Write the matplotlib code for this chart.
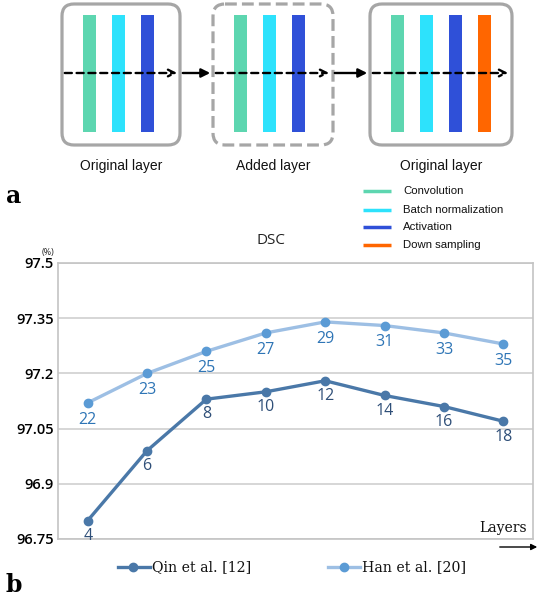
import matplotlib
matplotlib.use("Agg")
import matplotlib.pyplot as plt
from matplotlib.patches import FancyBboxPatch, Rectangle
import numpy as np

# ---------------- data ----------------
qin_layers = ["4", "6", "8", "10", "12", "14", "16", "18"]
qin_dsc = [96.80, 96.99, 97.13, 97.15, 97.18, 97.14, 97.11, 97.07]
han_layers = ["22", "23", "25", "27", "29", "31", "33", "35"]
han_dsc = [97.12, 97.20, 97.26, 97.31, 97.34, 97.33, 97.31, 97.28]
y_ticks = [96.75, 96.9, 97.05, 97.2, 97.35, 97.5]
y_tick_labels = ["96.75", "96.9", "97.05", "97.2", "97.35", "97.5"]
series_names = ["Qin et al. [12]", "Han et al. [20]"]

component_names = ["Convolution", "Batch normalization", "Activation", "Down sampling"]
component_colors = ["#5dd6b0", "#2de2fc", "#2f50d8", "#ff6600"]
block_labels = ["Original layer", "Added layer", "Original layer"]
block_components = [[0, 1, 2], [0, 1, 2], [0, 1, 2, 3]]

W, H = 542, 600
fig = plt.figure(figsize=(W / 100, H / 100), dpi=100)

# ---------------- chart ----------------
left, right, top, bot = 58, 533, 263, 539
ax = fig.add_axes([left / W, (H - bot) / H, (right - left) / W, (bot - top) / H])
x = np.arange(len(qin_dsc))
ax.set_xlim(-0.5, len(qin_dsc) - 0.5)
ax.set_ylim(96.75, 97.5)
ax.set_yticks(y_ticks)
ax.set_yticklabels(y_tick_labels, family="Open Sans", fontsize=10.5, fontweight="semibold")
ax.set_xticks([])
ax.tick_params(axis="y", length=0, pad=3)
for s in ax.spines.values():
    s.set_color("#c4c4c4")
    s.set_linewidth(1.2)
ax.grid(axis="y", color="#cfcfcf", lw=1.2)
ax.set_axisbelow(True)

qin_line_c, qin_mark_c, qin_text_c = "#4a78a8", "#4a78a8", "#2f4f78"
han_line_c, han_mark_c, han_text_c = "#9dbfe4", "#5b9bd5", "#2e75b6"

ax.plot(x, qin_dsc, color=qin_line_c, lw=2.4, marker="o", ms=6,
        mfc=qin_mark_c, mec=qin_mark_c, zorder=3)
ax.plot(x, han_dsc, color=han_line_c, lw=2.4, marker="o", ms=6,
        mfc=han_mark_c, mec=han_mark_c, zorder=3)
for xi, v, lab in zip(x, qin_dsc, qin_layers):
    ax.annotate(lab, (xi, v), xytext=(0, -11), textcoords="offset points",
                ha="center", va="center", fontsize=11.5, family="Open Sans",
                color=qin_text_c)
for xi, v, lab in zip(x, han_dsc, han_layers):
    ax.annotate(lab, (xi, v), xytext=(0, -12), textcoords="offset points",
                ha="center", va="center", fontsize=11.5, family="Open Sans",
                color=han_text_c)

# overlay axes in pixel coordinates for the diagram and annotations
ov = fig.add_axes([0, 0, 1, 1])
ov.set_zorder(5)
ov.set_xlim(0, W)
ov.set_ylim(H, 0)
ov.axis("off")

# block geometry (pixels)
blocks = [(62, 180), (213, 333), (370, 512)]
box_top, box_bot = 4, 145
bar_top, bar_bot = 15, 132
bar_w = 13
bar_step = 29
for bi, ((x0, x1), comps, lab) in enumerate(zip(blocks, block_components, block_labels)):
    ls = "--" if bi == 1 else "-"
    box = FancyBboxPatch((x0 + 12, box_top + 12), (x1 - x0) - 24, (box_bot - box_top) - 24,
                         boxstyle="round,pad=12", fc="white", ec="#a6a6a6", lw=2.3,
                         linestyle=ls, zorder=1)
    ov.add_patch(box)
    bx = x0 + 21
    for ci in comps:
        ov.add_patch(Rectangle((bx, bar_top), bar_w, bar_bot - bar_top,
                               fc=component_colors[ci], ec="none", zorder=2))
        bx += bar_step
    ov.text((x0 + x1) / 2, 166, lab, ha="center", va="center", fontsize=10,
            family="Liberation Sans", color="#111111")

# arrows
ay = 73
dash_segs = [(62, 180), (213, 332), (370, 511)]
for (a0, a1) in dash_segs:
    ov.annotate("", xy=(a1, ay), xytext=(a0, ay),
                arrowprops=dict(arrowstyle="->", lw=1.7, linestyle=(0, (3, 2)),
                                color="black", mutation_scale=12), zorder=3)
for (a0, a1) in [(180, 213), (332, 370)]:
    ov.annotate("", xy=(a1, ay), xytext=(a0, ay),
                arrowprops=dict(arrowstyle="-|>", lw=1.7, color="black",
                                mutation_scale=13), zorder=3)

# component legend
for i, (nm, c) in enumerate(zip(component_names, component_colors)):
    yy = [191, 210, 227, 245][i]
    ov.plot([363, 391], [yy, yy], color=c, lw=2.5, solid_capstyle="butt")
    ov.text(403, yy, nm, ha="left", va="center", fontsize=8.2,
            family="Liberation Sans", color="#111111")

# panel letters
ov.text(6, 196, "a", fontsize=17, fontweight="bold", family="DejaVu Serif",
        va="center", ha="left")
ov.text(6, 585, "b", fontsize=17, fontweight="bold", family="DejaVu Serif",
        va="center", ha="left")

# title, unit, layers
ov.text(271, 240, "DSC", ha="center", va="center", fontsize=11,
        family="Open Sans", color="#222222")
ov.text(42, 253, "(%)", ha="left", va="center", fontsize=6.5,
        family="Open Sans", color="#222222")
ov.text(527, 528, "Layers", ha="right", va="center", fontsize=10,
        family="DejaVu Serif", color="#111111")
ov.annotate("", xy=(540, 547), xytext=(497, 547),
            arrowprops=dict(arrowstyle="-|>", lw=1.0, color="black",
                            mutation_scale=9))

# bottom legend
ov.plot([118, 150], [567, 567], color=qin_line_c, lw=2.4)
ov.plot([133], [567], "o", color=qin_mark_c, ms=6)
ov.text(152, 567, series_names[0], ha="left", va="center", fontsize=10.2,
        family="DejaVu Serif", color="#111111")
ov.plot([328, 360], [567, 567], color=han_line_c, lw=2.4)
ov.plot([344], [567], "o", color=han_mark_c, ms=6)
ov.text(362, 567, series_names[1], ha="left", va="center", fontsize=10.2,
        family="DejaVu Serif", color="#111111")

fig.savefig("out.png", dpi=100)
